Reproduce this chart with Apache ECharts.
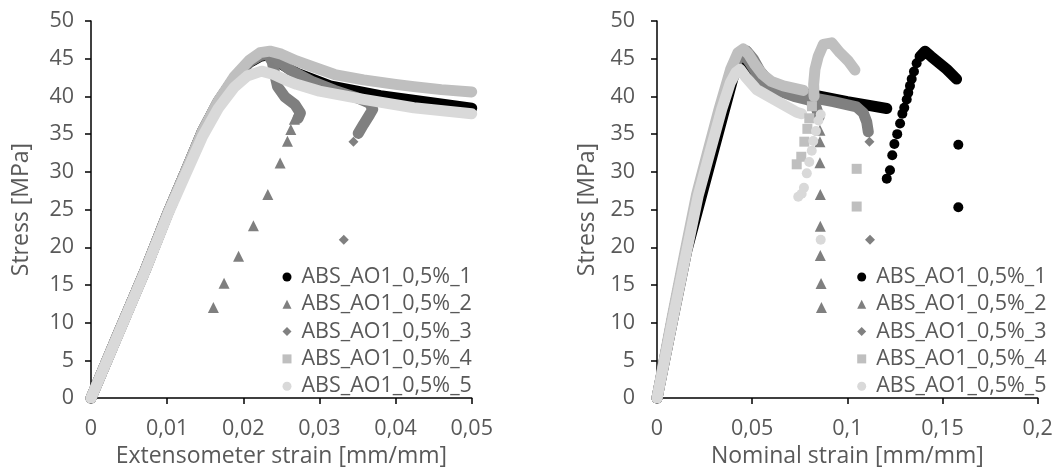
<!DOCTYPE html>
<html>
<head>
<meta charset="utf-8">
<script src="https://cdn.jsdelivr.net/npm/echarts@6/dist/echarts.min.js"></script>
<style>
  html, body { margin: 0; padding: 0; background: #ffffff; }
  #chart { width: 1062px; height: 473px; }
</style>
</head>
<body>
<div id="chart"></div>
<script>
// Specimen names (legend)
const specimenNames = ['ABS_AO1_0,5%_1', 'ABS_AO1_0,5%_2', 'ABS_AO1_0,5%_3', 'ABS_AO1_0,5%_4', 'ABS_AO1_0,5%_5'];
const specimenColors = ['#000000', '#7f7f7f', '#808080', '#bfbfbf', '#d9d9d9'];
const specimenSymbols = ['circle', 'triangle', 'diamond', 'rect', 'circle'];

// Axis ticks
const stressTicks = [0, 5, 10, 15, 20, 25, 30, 35, 40, 45, 50];
const extTicks = [0, 0.01, 0.02, 0.03, 0.04, 0.05];
const nomTicks = [0, 0.05, 0.1, 0.15, 0.2];

// ---- Extensometer strain [mm/mm] vs Stress [MPa] ----
// dense (continuous) parts of each record
const ext1Dense = [[0,0],[0.0036,8.6],[0.0071,16.9],[0.0102,24.8],[0.0124,30.0],[0.0146,35.3],[0.0167,39.3],[0.0188,42.4],[0.0208,44.5],[0.0222,45.3],[0.0232,45.5],[0.0245,44.6],[0.0270,43.1],[0.0314,41.4],[0.0380,40.1],[0.0445,39.2],[0.0500,38.45]];
const ext2Dense = [[0,0],[0.0036,8.6],[0.0071,16.9],[0.0102,24.8],[0.0124,30.0],[0.0146,35.3],[0.0167,39.3],[0.0188,42.4],[0.0208,44.6],[0.0222,45.4],[0.0232,45.6],[0.0238,44.6],[0.0241,43.1],[0.0245,41.3],[0.0255,39.9],[0.0268,38.9],[0.0275,37.8],[0.0272,37.1]];
const ext3Dense = [[0,0],[0.0036,8.6],[0.0071,16.9],[0.0102,24.8],[0.0124,30.0],[0.0146,35.3],[0.0167,39.3],[0.0188,42.4],[0.0208,44.6],[0.0222,45.5],[0.0234,45.7],[0.0260,43.6],[0.0290,42.0],[0.0320,40.8],[0.0350,39.8],[0.0366,39.1],[0.0370,38.3],[0.0366,37.6],[0.0358,36.3],[0.0351,35.1]];
const ext4Dense = [[0,0],[0.0036,8.6],[0.0071,16.9],[0.0102,24.8],[0.0124,30.0],[0.0146,35.3],[0.0167,39.4],[0.0188,42.6],[0.0208,44.8],[0.0222,45.8],[0.0235,46.0],[0.0250,45.6],[0.0270,44.7],[0.0292,43.9],[0.0320,42.9],[0.0358,42.2],[0.0400,41.6],[0.0424,41.3],[0.0460,40.9],[0.0500,40.6]];
const ext5Dense = [[0,0],[0.0036,8.5],[0.0071,16.8],[0.0102,24.6],[0.0124,29.6],[0.0146,34.6],[0.0167,38.4],[0.0188,41.2],[0.0205,42.7],[0.0224,43.35],[0.0240,42.9],[0.0255,42.2],[0.0270,41.6],[0.0300,40.7],[0.0358,39.6],[0.0424,38.5],[0.0500,37.7]];
// separate markers
const ext1Sparse = [];
const ext2Sparse = [[0.02671,36.97],[0.02624,35.6],[0.02580,34.06],[0.02484,31.17],[0.02322,27.0],[0.02133,22.86],[0.01938,18.81],[0.01748,15.22],[0.01607,12.01]];
const ext3Sparse = [[0.03447,34.0],[0.0332,21.0]];
const ext4Sparse = [];
const ext5Sparse = [];

// ---- Nominal strain [mm/mm] vs Stress [MPa] ----
const nom1Dense = [[0,0],[0.0086,10.8],[0.0156,19.5],[0.0400,42.5],[0.0440,44.3],[0.0470,43.4],[0.0550,41.6],[0.0650,40.8],[0.0820,40.2],[0.1000,39.3],[0.1207,38.4]];
const nom1Hump = [[0.1382,45.3],[0.1408,46.0],[0.1440,45.3],[0.1469,44.7],[0.1522,43.6],[0.1574,42.3]];
const nom1Sparse = [[0.1207,29.1],[0.1224,30.2],[0.1236,32.2],[0.1247,33.7],[0.1262,35.0],[0.1277,36.4],[0.1289,37.7],[0.1299,38.5],[0.1312,39.6],[0.1320,40.5],[0.1329,41.4],[0.1338,42.3],[0.1350,43.3],[0.1364,44.4],[0.1583,33.6],[0.1583,25.3]];
const nom2Dense = [[0,0],[0.0083,10.8],[0.0152,19.5],[0.0212,26.9],[0.0272,32.6],[0.0333,38.3],[0.0394,43.4],[0.0430,45.2],[0.0455,45.6],[0.0490,44.4],[0.0540,42.4],[0.0620,40.9],[0.0720,40.0],[0.0800,39.5],[0.0835,38.6],[0.0852,37.3]];
const nom2Sparse = [[0.0856,35.5],[0.0856,34.0],[0.0856,31.2],[0.0858,27.0],[0.0858,22.8],[0.0858,18.9],[0.0862,15.2],[0.0864,12.0]];
const nom3Dense = [[0,0],[0.0083,10.8],[0.0152,19.5],[0.0212,26.9],[0.0272,32.6],[0.0333,38.3],[0.0394,43.4],[0.0440,45.6],[0.0472,46.0],[0.0505,45.0],[0.0540,43.4],[0.0580,42.2],[0.0640,41.1],[0.0720,40.3],[0.0800,39.9],[0.0926,39.3],[0.1049,38.6],[0.1084,37.8],[0.1102,36.6],[0.1110,35.3]];
const nom3Sparse = [[0.1116,34.0],[0.1119,21.0]];
const nom4Dense = [[0,0],[0.0080,10.8],[0.0148,19.5],[0.0207,26.9],[0.0266,32.6],[0.0326,38.3],[0.0387,43.6],[0.0425,45.8],[0.0453,46.3],[0.0480,45.6],[0.0515,44.2],[0.0555,42.9],[0.0600,42.0],[0.0664,41.4],[0.0769,40.8]];
const nom4Hump = [[0.0825,40.0],[0.0823,41.6],[0.0830,43.6],[0.0847,45.3],[0.0874,46.9],[0.0918,47.1],[0.0961,45.8],[0.1005,44.7],[0.1040,43.5]];
const nom4Sparse = [[0.0814,38.7],[0.0800,37.1],[0.0790,35.7],[0.0774,34.0],[0.0758,32.0],[0.0734,31.0],[0.1049,30.4],[0.1049,25.4]];
const nom5Dense = [[0,0],[0.0086,10.8],[0.0156,19.5],[0.0217,26.9],[0.0278,32.6],[0.0340,38.3],[0.0385,41.8],[0.0415,43.2],[0.0436,43.6],[0.0465,42.6],[0.0524,40.9],[0.0629,39.4],[0.0734,37.9],[0.0760,37.7]];
const nom5Sparse = [[0.0860,37.6],[0.0848,36.8],[0.0835,35.4],[0.0821,34.1],[0.0813,32.8],[0.0800,31.3],[0.0787,29.8],[0.0772,27.9],[0.0760,27.1],[0.0742,26.7],[0.0860,21.0]];

const extDense = [ext1Dense, ext2Dense, ext3Dense, ext4Dense, ext5Dense];
const extSparse = [ext1Sparse, ext2Sparse, ext3Sparse, ext4Sparse, ext5Sparse];
const nomDense = [[nom1Dense, nom1Hump], [nom2Dense], [nom3Dense], [nom4Dense, nom4Hump], [nom5Dense]];
const nomSparse = [nom1Sparse, nom2Sparse, nom3Sparse, nom4Sparse, nom5Sparse];

const FONT = "'Open Sans', sans-serif";
const TEXT = '#595959';
const BAND = 11;

function commaFmt(v) {
  return String(+v.toFixed(4)).replace('.', ',');
}

function scatterSeries(i, data, axisIdx) {
  return {
    type: 'scatter', name: specimenNames[i],
    xAxisIndex: axisIdx, yAxisIndex: axisIdx,
    data: data, symbol: specimenSymbols[i],
    symbolSize: specimenSymbols[i] === 'triangle' ? 11 : 10,
    itemStyle: { color: specimenColors[i], opacity: 1 },
    silent: true, animation: false
  };
}
function bandSeries(i, data, axisIdx) {
  return {
    type: 'line', name: specimenNames[i],
    xAxisIndex: axisIdx, yAxisIndex: axisIdx,
    data: data, symbol: 'none', showSymbol: false,
    lineStyle: { color: specimenColors[i], width: BAND, cap: 'round', join: 'round' },
    itemStyle: { color: specimenColors[i] },
    silent: true, animation: false, z: 2
  };
}

const series = [];
for (let i = 0; i < 5; i++) {
  series.push(scatterSeries(i, extSparse[i], 0));
  series.push(bandSeries(i, extDense[i], 0));
}
for (let i = 0; i < 5; i++) {
  series.push(scatterSeries(i, nomSparse[i], 1));
  nomDense[i].forEach(d => series.push(bandSeries(i, d, 1)));
}

function xAxisCfg(gridIndex, ticks, name) {
  return {
    type: 'value', gridIndex: gridIndex,
    min: ticks[0], max: ticks[ticks.length - 1], interval: ticks[1] - ticks[0],
    name: name, nameLocation: 'middle', nameGap: 45,
    nameTextStyle: { color: TEXT, fontFamily: FONT, fontSize: 23 },
    axisLine: { show: true, onZero: false, lineStyle: { color: '#000', width: 1.5 } },
    axisTick: { show: true, inside: false, length: 6, lineStyle: { color: '#000', width: 1.5 } },
    axisLabel: { color: TEXT, fontFamily: FONT, fontSize: 21.5, margin: 20, formatter: commaFmt },
    splitLine: { show: false }
  };
}
function yAxisCfg(gridIndex, margin) {
  return {
    type: 'value', gridIndex: gridIndex,
    min: stressTicks[0], max: stressTicks[stressTicks.length - 1], interval: stressTicks[1] - stressTicks[0],
    name: 'Stress [MPa]', nameLocation: 'middle', nameGap: 58, nameRotate: 90,
    nameTextStyle: { color: TEXT, fontFamily: FONT, fontSize: 23 },
    axisLine: { show: true, onZero: false, lineStyle: { color: '#000', width: 1.5 } },
    axisTick: { show: true, inside: false, length: 6, lineStyle: { color: '#000', width: 1.5 } },
    axisLabel: { color: TEXT, fontFamily: FONT, fontSize: 21.5, margin: margin },
    splitLine: { show: false }
  };
}
function legendCfg(left) {
  return {
    orient: 'vertical', left: left, top: 266, padding: 0,
    itemWidth: 9, itemHeight: 9, itemGap: 5.3, selectedMode: false,
    textStyle: { color: TEXT, fontFamily: FONT, fontSize: 21.5, lineHeight: 22, padding: [0, 0, 0, 5] },
    data: specimenNames.map((n, i) => ({ name: n, icon: specimenSymbols[i] }))
  };
}

const chart = echarts.init(document.getElementById('chart'), null, { renderer: 'canvas' });
chart.setOption({
  backgroundColor: '#ffffff',
  animation: false,
  grid: [
    { left: 91, top: 21, width: 380.7, height: 381 },
    { left: 657, top: 21, width: 380.7, height: 381 }
  ],
  xAxis: [
    xAxisCfg(0, extTicks, 'Extensometer strain [mm/mm]'),
    xAxisCfg(1, nomTicks, 'Nominal strain [mm/mm]')
  ],
  yAxis: [yAxisCfg(0, 17), yAxisCfg(1, 22)],
  legend: [legendCfg(282.5), legendCfg(857.2)],
  series: series
});
</script>
</body>
</html>
